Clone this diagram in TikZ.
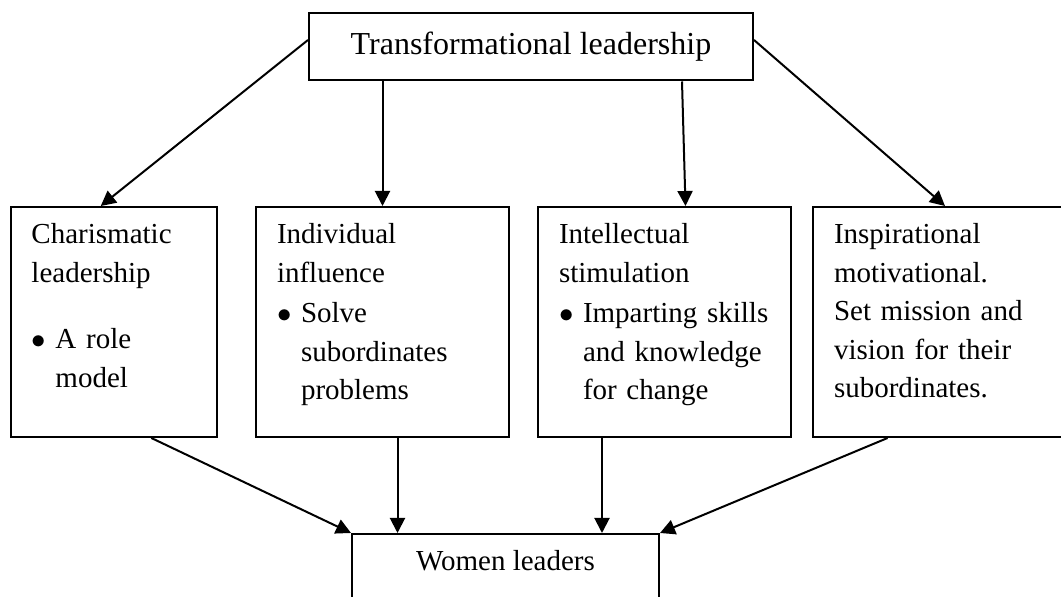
\documentclass[tikz,border=0pt]{standalone}
\usepackage{fontspec}
\setmainfont{Liberation Serif}
\usetikzlibrary{arrows.meta}

\tikzset{
  box/.style={draw, line width=1pt, inner sep=0pt},
  trait/.style={box, anchor=north west, align=left, inner xsep=10.5pt,
    text height=18.5pt, text depth=96.5pt,
    font=\fontsize{14.5}{19.25}\selectfont},
}
\newcommand{\bpt}{\makebox[12pt][l]{$\bullet$}}
\newcommand{\bin}{\hspace*{12pt}}

\begin{document}
\begin{tikzpicture}[x=0.5pt,y=-0.5pt]
      \clip (0,0) rectangle (1061,597);
      \fill[white] (0,0) rectangle (1061,597);
      \node[box, minimum width=222pt, minimum height=33.5pt,
        font=\fontsize{16}{19.25}\selectfont] (lead) at (531,47)
        {Transformational leadership};
      \node[trait, text width=82.25pt] (c1) at (9.5,206)
        {Charismatic\\leadership\\[14pt]\bpt A role\\\bin model};
      \node[trait, text width=105.5pt] (c2) at (255,206)
        {Individual\\influence\\[1pt]\bpt Solve\\\bin subordinates\\\bin problems};
      \node[trait, text width=105.5pt] (c3) at (537,206)
        {Intellectual\\stimulation\\[1pt]\bpt Imparting skills\\\bin and knowledge\\\bin for change};
      \node[trait, text width=109pt] (c4) at (812,206)
        {Inspirational\\motivational.\\Set mission and\\vision for their\\subordinates.};
      \node[box, anchor=north, minimum width=153.5pt, text height=18.5pt,
        text depth=16.5pt, font=\fontsize{14.5}{19.25}\selectfont] (wl) at (505.5,533)
        {Women leaders};
      \begin{scope}[-{Triangle[length=7.5pt,width=7.5pt]}, line width=1pt]
        \draw ([yshift=3.5pt]lead.west) to ([xshift=-6.5pt]c1.north);
        \draw (lead.south -| c2.north) to (c2.north);
        \draw ([xshift=75.5pt]lead.south) to ([xshift=10.5pt]c3.north);
        \draw ([yshift=3.5pt]lead.east) to ([xshift=1pt]c4.north);
        \draw ([xshift=18.8pt]c1.south) to (wl.north west);
        \draw ([xshift=7.5pt]c2.south) to ([xshift=7.5pt]c2.south |- wl.north);
        \draw ([xshift=-31.25pt]c3.south) to ([xshift=-31.25pt]c3.south |- wl.north);
        \draw ([xshift=-27.7pt]c4.south) to (wl.north east);
      \end{scope}
    \end{tikzpicture}
\end{document}
